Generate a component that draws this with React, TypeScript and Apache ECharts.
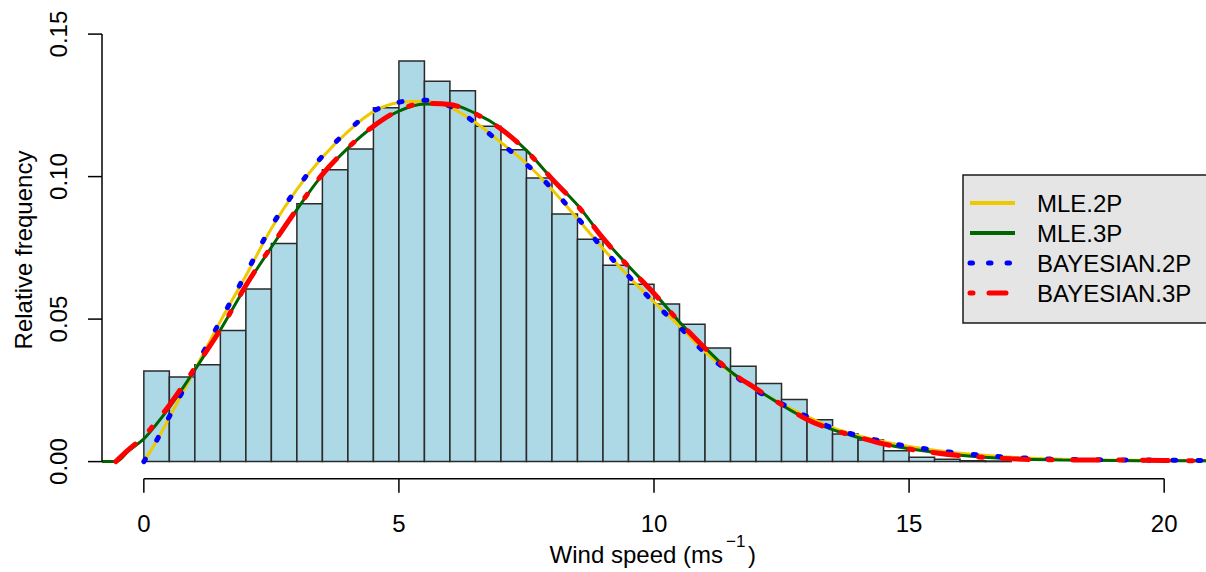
import React, { useEffect, useRef } from "react";
import * as echarts from "echarts";

// ---------- data ----------
const binWidth = 0.5;
const binStarts = [
  0, 0.5, 1, 1.5, 2, 2.5, 3, 3.5, 4, 4.5, 5, 5.5, 6, 6.5, 7, 7.5, 8, 8.5, 9, 9.5,
  10, 10.5, 11, 11.5, 12, 12.5, 13, 13.5, 14, 14.5, 15, 15.5, 16, 16.5,
];
const binFreq = [
  0.0318, 0.0297, 0.034, 0.046, 0.0606, 0.0765, 0.0905, 0.1024, 0.1097, 0.1242,
  0.1406, 0.1335, 0.1301, 0.1177, 0.1094, 0.0995, 0.0869, 0.078, 0.0689, 0.0622,
  0.0553, 0.0482, 0.0399, 0.0335, 0.0274, 0.0218, 0.0147, 0.0097, 0.0076, 0.0038,
  0.0015, 0.0008, 0.0003, 0.0002,
];

const x2P = [
  0, 0.25, 0.5, 1, 1.5, 2, 2.5, 3, 3.5, 4, 4.5, 5, 5.5, 6, 6.5, 7, 7.5, 8, 8.5, 9,
  9.5, 10, 10.5, 11, 11.5, 12, 12.5, 13, 13.5, 14, 14.5, 15, 15.5, 16, 17, 18, 19,
  20, 20.82,
];
const mle2P = [
  0, 0.0072, 0.0155, 0.0322, 0.0492, 0.0652, 0.0818, 0.0955, 0.1068, 0.1158,
  0.1228, 0.126, 0.1264, 0.1243, 0.119, 0.112, 0.1046, 0.0955, 0.0852, 0.0748,
  0.065, 0.056, 0.0475, 0.0385, 0.0314, 0.0252, 0.0203, 0.0158, 0.0119, 0.0091,
  0.007, 0.0053, 0.004, 0.0029, 0.0015, 0.0008, 0.0005, 0.0004, 0.0003,
];
const bayes2P = [
  0, 0.0074, 0.0158, 0.0328, 0.0494, 0.0659, 0.0825, 0.0958, 0.1072, 0.1161,
  0.123, 0.1261, 0.1268, 0.1247, 0.1188, 0.1117, 0.1043, 0.0958, 0.0856, 0.0747,
  0.0651, 0.0558, 0.0473, 0.0382, 0.0312, 0.025, 0.0203, 0.0158, 0.0118, 0.0091,
  0.007, 0.0053, 0.0041, 0.0029, 0.0015, 0.0008, 0.0006, 0.0005, 0.0004,
];

const xMle3P = [
  -0.82, -0.55, -0.3, 0, 0.25, 0.5, 1, 1.5, 2, 2.5, 3, 3.5, 4, 4.5, 5, 5.5, 6, 6.5,
  7, 7.5, 8, 8.5, 9, 9.5, 10, 10.5, 11, 11.5, 12, 12.5, 13, 13.5, 14, 14.5, 15, 16,
  17, 18, 19, 20, 20.82,
];
const mle3P = [
  0, 0, 0.0038, 0.008, 0.0132, 0.019, 0.0322, 0.0462, 0.0615, 0.0752, 0.0884,
  0.1006, 0.11, 0.1176, 0.123, 0.1255, 0.1253, 0.1222, 0.117, 0.1092, 0.0993,
  0.09, 0.0786, 0.0686, 0.0592, 0.049, 0.04, 0.0316, 0.0255, 0.0199, 0.0149,
  0.0112, 0.0085, 0.0062, 0.0045, 0.0022, 0.001, 0.0006, 0.0004, 0.0003, 0.0003,
];
const xBayes3P = [
  -0.55, -0.3, 0, 0.25, 0.5, 1, 1.5, 2, 2.5, 3, 3.5, 4, 4.5, 5, 5.5, 6, 6.5, 7,
  7.5, 8, 8.5, 9, 9.5, 10, 10.5, 11, 11.5, 12, 12.5, 13, 13.5, 14, 14.5, 15, 16,
  17, 18, 19, 20, 20.82,
];
const bayes3P = [
  0, 0.0042, 0.0088, 0.0142, 0.0198, 0.0328, 0.0463, 0.0618, 0.0755, 0.0886,
  0.1008, 0.1101, 0.1177, 0.1232, 0.1257, 0.1253, 0.122, 0.1167, 0.109, 0.0992,
  0.0898, 0.0784, 0.0684, 0.059, 0.049, 0.0398, 0.0316, 0.0256, 0.02, 0.0148,
  0.0112, 0.0086, 0.0062, 0.0044, 0.0021, 0.001, 0.0006, 0.0006, 0.0004, 0.0003,
];

const xTicks = [0, 5, 10, 15, 20];
const xTickLabels = ["0", "5", "10", "15", "20"];
const yTicks = [0, 0.05, 0.1, 0.15];
const yTickLabels = ["0.00", "0.05", "0.10", "0.15"];

const legendNames = ["MLE.2P", "MLE.3P", "BAYESIAN.2P", "BAYESIAN.3P"];
const yTitle = "Relative frequency";
const xTitleMain = "Wind speed (ms";
const xTitleSup = "\u22121";
const xTitleEnd = ")";

// ---------- styles ----------
const X_MIN = -0.82;
const X_MAX = 20.82;
const Y_MIN = -0.006;
const Y_MAX = 0.156;
const FONT = '"Liberation Sans", Arial, Helvetica, sans-serif';
const INK = "#000000";
const GOLD = "#EEC900";
const GREEN = "#006400";
const BLUE = "#0000FF";
const RED = "#FF0000";

const curveStyles = [
  { color: GOLD, width: 3, type: "solid" as any, cap: "butt" },
  { color: GREEN, width: 3, type: "solid" as any, cap: "butt" },
  { color: BLUE, width: 5, type: [3, 22] as any, cap: "round" },
  { color: RED, width: 5, type: [26, 20, 4, 20] as any, cap: "round" },
];

const zip = (xs: number[], ys: number[]) => xs.map((x, i) => [x, ys[i]]);

function textStyle(text: string, size: number, align: string, vAlign: string) {
  return {
    text,
    fill: INK,
    fontSize: size,
    fontFamily: FONT,
    align,
    verticalAlign: vAlign,
    textAlign: align,
    textVerticalAlign: vAlign,
  };
}

function buildOption() {
  const curveData = [
    zip(x2P, mle2P),
    zip(xMle3P, mle3P),
    zip(x2P, bayes2P),
    zip(xBayes3P, bayes3P),
  ];

  const lineSeries = curveData.map((data, i) => ({
    type: "line",
    name: legendNames[i],
    data,
    smooth: 0.35,
    showSymbol: false,
    symbol: "none",
    silent: true,
    z: 10 + i,
    lineStyle: {
      color: curveStyles[i].color,
      width: curveStyles[i].width,
      type: curveStyles[i].type,
      cap: curveStyles[i].cap,
    },
  }));

  const legendRowsY = [203, 233, 263, 293];
  const legendLineDash: any[] = [null, null, [2.5, 16], [3, 16, 17, 100]];
  const legendLineWidth = [4, 4, 5, 5];
  const legendGraphics: any[] = [
    {
      type: "rect",
      shape: { x: 963, y: 175, width: 270, height: 148 },
      style: { fill: "#E5E5E5", stroke: "#1a1a1a", lineWidth: 1.5 },
      z: 100,
    },
  ];
  legendNames.forEach((name, i) => {
    legendGraphics.push({
      type: "line",
      shape: { x1: 970, y1: legendRowsY[i], x2: 1015, y2: legendRowsY[i] },
      style: {
        stroke: curveStyles[i].color,
        lineWidth: legendLineWidth[i],
        lineDash: legendLineDash[i] || undefined,
        lineCap: i >= 2 ? "round" : "butt",
      },
      z: 101,
    });
    legendGraphics.push({
      type: "text",
      x: 1037,
      y: legendRowsY[i],
      style: textStyle(name, 24, "left", "middle"),
      z: 101,
    });
  });

  const titleGraphics: any[] = [
    {
      type: "text",
      x: 23.5,
      y: 250,
      rotation: Math.PI / 2,
      style: textStyle(yTitle, 24, "center", "middle"),
    },
    {
      type: "text",
      x: 723,
      y: 554,
      style: textStyle(xTitleMain, 24, "right", "middle"),
    },
    {
      type: "text",
      x: 726,
      y: 541,
      style: textStyle(xTitleSup, 17, "left", "middle"),
    },
    {
      type: "text",
      x: 748,
      y: 554,
      style: textStyle(xTitleEnd, 24, "left", "middle"),
    },
  ];

  return {
    animation: false,
    backgroundColor: "#ffffff",
    grid: { left: 102, top: 17, width: 1106.5, height: 461.7 },
    xAxis: {
      type: "value",
      min: X_MIN,
      max: X_MAX,
      axisLine: { show: false },
      axisTick: { show: false },
      axisLabel: { show: false },
      splitLine: { show: false },
    },
    yAxis: {
      type: "value",
      min: Y_MIN,
      max: Y_MAX,
      axisLine: { show: false },
      axisTick: { show: false },
      axisLabel: { show: false },
      splitLine: { show: false },
    },
    graphic: [...titleGraphics, ...legendGraphics],
    series: [
      {
        type: "custom",
        name: "histogram",
        silent: true,
        z: 2,
        data: binStarts.map((s, i) => [s, s + binWidth, binFreq[i]]),
        encode: { x: [0, 1], y: 2 },
        renderItem: (_p: any, api: any) => {
          const a = api.coord([api.value(0), 0]);
          const b = api.coord([api.value(1), api.value(2)]);
          return {
            type: "rect",
            shape: { x: a[0], y: b[1], width: b[0] - a[0], height: a[1] - b[1] },
            style: { fill: "#ADD8E6", stroke: "#2a2a2a", lineWidth: 1.5 },
          };
        },
      },
      ...lineSeries,
      {
        type: "custom",
        name: "axisFrame",
        silent: true,
        clip: false,
        z: 20,
        data: [[xTicks[0], xTicks[xTicks.length - 1], yTicks[0], yTicks[yTicks.length - 1]]],
        encode: { x: [0, 1], y: [2, 3] },
        renderItem: (_p: any, api: any) => {
          const a = api.coord([api.value(0), Y_MIN]);
          const b = api.coord([api.value(1), Y_MIN]);
          const c = api.coord([X_MIN, api.value(2)]);
          const d = api.coord([X_MIN, api.value(3)]);
          return {
            type: "group",
            children: [
              {
                type: "line",
                shape: { x1: a[0], y1: a[1], x2: b[0], y2: b[1] },
                style: { stroke: INK, lineWidth: 1.5 },
              },
              {
                type: "line",
                shape: { x1: c[0], y1: c[1], x2: d[0], y2: d[1] },
                style: { stroke: INK, lineWidth: 1.5 },
              },
            ],
          };
        },
      },
      {
        type: "custom",
        name: "xTicks",
        silent: true,
        clip: false,
        z: 20,
        data: xTicks.map((v) => [v, Y_MIN]),
        encode: { x: 0, y: 1 },
        renderItem: (params: any, api: any) => {
          const p = api.coord([api.value(0), api.value(1)]);
          return {
            type: "group",
            children: [
              {
                type: "line",
                shape: { x1: p[0], y1: p[1], x2: p[0], y2: p[1] + 14 },
                style: { stroke: INK, lineWidth: 1.5 },
              },
              {
                type: "text",
                x: p[0],
                y: p[1] + 45,
                style: textStyle(xTickLabels[params.dataIndex], 24, "center", "middle"),
              },
            ],
          };
        },
      },
      {
        type: "custom",
        name: "yTicks",
        silent: true,
        clip: false,
        z: 20,
        data: yTicks.map((v) => [X_MIN, v]),
        encode: { x: 0, y: 1 },
        renderItem: (params: any, api: any) => {
          const p = api.coord([api.value(0), api.value(1)]);
          return {
            type: "group",
            children: [
              {
                type: "line",
                shape: { x1: p[0] - 14, y1: p[1], x2: p[0], y2: p[1] },
                style: { stroke: INK, lineWidth: 1.5 },
              },
              {
                type: "text",
                x: p[0] - 44,
                y: p[1],
                rotation: Math.PI / 2,
                style: textStyle(yTickLabels[params.dataIndex], 24, "center", "middle"),
              },
            ],
          };
        },
      },
    ],
  };
}

export default function App() {
  const ref = useRef<HTMLDivElement>(null);
  useEffect(() => {
    document.body.style.margin = "0";
    const chart = echarts.init(ref.current as HTMLDivElement, null, { renderer: "svg" });
    chart.setOption(buildOption() as any);
    return () => {
      chart.dispose();
    };
  }, []);
  return <div ref={ref} style={{ width: 1206, height: 572 }} />;
}
